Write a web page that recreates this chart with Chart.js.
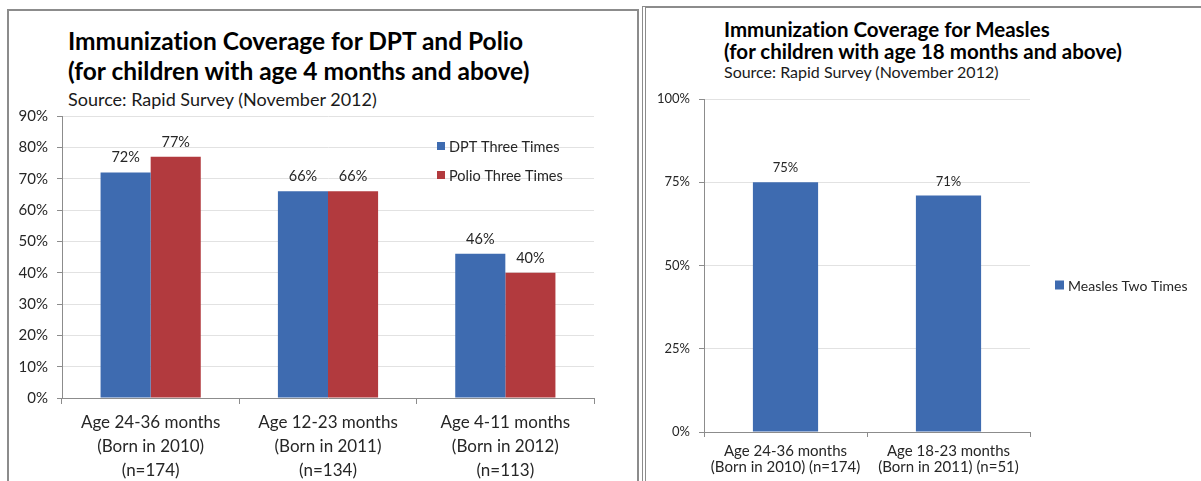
<!DOCTYPE html>
<html>
<head>
<meta charset="utf-8">
<script src="https://cdn.jsdelivr.net/npm/chart.js@4.4.1/dist/chart.umd.min.js"></script>
<style>
  html, body { margin: 0; padding: 0; background: #fff; }
  body { position: relative; width: 1201px; height: 481px; overflow: hidden; font-family: Lato, "Open Sans", sans-serif; color: #000; font-variant-ligatures: none; }
  .panel { position: absolute; box-sizing: border-box; border: 2px solid #8c8c8c; background: #fff; }
  #panelLeft { left: 7px; top: 9px; width: 632px; height: 520px; }
  #panelRight { left: 642px; top: 6px; width: 620px; height: 520px; border-left: 4px double #8c8c8c; }
  .txt { position: absolute; white-space: nowrap; line-height: 1; font-variant-ligatures: none; }
  canvas { position: absolute; top: 0; }
  #dptChart { left: 0; }
  #measlesChart { left: 643px; }
</style>
</head>
<body>
<div class="panel" id="panelLeft"></div>
<div class="panel" id="panelRight"></div>

<div class="txt" style="left:68px; top:29px; font-size:24.5px; font-weight:700;">Immunization Coverage for DPT and Polio</div>
<div class="txt" style="left:68px; top:59px; font-size:24.5px; font-weight:700;">(for children with age 4 months and above)</div>
<div class="txt" style="left:68px; top:90px; font-size:18px; color:#1a1a1a;">Source: Rapid Survey (November 2012)</div>

<div class="txt" style="left:724px; top:19px; font-size:20.5px; font-weight:700;">Immunization Coverage for Measles</div>
<div class="txt" style="left:724px; top:41px; font-size:20.5px; font-weight:700;">(for children with age 18 months and above)</div>
<div class="txt" style="left:724px; top:64px; font-size:16px; color:#1a1a1a;">Source: Rapid Survey (November 2012)</div>

<canvas id="dptChart" width="640" height="481"></canvas>
<canvas id="measlesChart" width="558" height="481"></canvas>

<script>
// ---- DPT / Polio chart data ----
const dptCategories = [
  ['Age 24-36 months', '(Born in 2010)', '(n=174)'],
  ['Age 12-23 months', '(Born in 2011)', '(n=134)'],
  ['Age 4-11 months', '(Born in 2012)', '(n=113)']
];
const dptThreeTimes = [72, 66, 46];
const polioThreeTimes = [77, 66, 40];
const dptAxisTicks = [0, 10, 20, 30, 40, 50, 60, 70, 80, 90];

// ---- Measles chart data ----
const measlesCategories = [
  ['Age 24-36 months', '(Born in 2010) (n=174)'],
  ['Age 18-23 months', '(Born in 2011) (n=51)']
];
const measlesTwoTimes = [75, 71];
const measlesAxisTicks = [0, 25, 50, 75, 100];

const BLUE = '#3E6BB0';
const RED = '#B23A3E';
const TEXT = '#262626';
const GRID = '#e2e2e2';
const AXIS = '#8c8c8c';
const FONT = 'Lato, "Open Sans", sans-serif';

// Percent labels above each bar
const valueLabels = {
  id: 'valueLabels',
  afterDatasetsDraw(chart, args, opts) {
    const ctx = chart.ctx;
    ctx.save();
    ctx.font = opts.size + 'px ' + FONT;
    ctx.fillStyle = TEXT;
    ctx.textAlign = 'center';
    ctx.textBaseline = 'alphabetic';
    chart.data.datasets.forEach((ds, i) => {
      chart.getDatasetMeta(i).data.forEach((bar, j) => {
        ctx.fillText(ds.data[j] + '%', bar.x, bar.y - opts.offset);
      });
    });
    ctx.restore();
  }
};

// Square-marker legend drawn inside the canvas at a fixed spot
const boxLegend = {
  id: 'boxLegend',
  afterDraw(chart, args, opts) {
    const ctx = chart.ctx;
    ctx.save();
    ctx.font = opts.size + 'px ' + FONT;
    ctx.textBaseline = 'middle';
    ctx.textAlign = 'left';
    chart.data.datasets.forEach((ds, i) => {
      const cy = opts.y + i * opts.gap;
      ctx.fillStyle = ds.backgroundColor;
      ctx.fillRect(opts.x, cy - opts.box / 2, opts.box, opts.box);
      ctx.fillStyle = TEXT;
      ctx.fillText(ds.label, opts.x + opts.box + 4, cy + 1);
    });
    ctx.restore();
  }
};

function fixedTicks(list) {
  return scale => { scale.ticks = list.map(v => ({ value: v })); };
}

new Chart(document.getElementById('dptChart'), {
  type: 'bar',
  data: {
    labels: dptCategories,
    datasets: [
      { label: 'DPT Three Times', data: dptThreeTimes, backgroundColor: BLUE },
      { label: 'Polio Three Times', data: polioThreeTimes, backgroundColor: RED }
    ]
  },
  options: {
    responsive: false,
    animation: false,
    layout: { padding: { top: 116, right: 46, left: 0, bottom: 0 } },
    datasets: { bar: { categoryPercentage: 0.565, barPercentage: 1.0 } },
    plugins: {
      legend: { display: false },
      tooltip: { enabled: false },
      valueLabels: { size: 14.5, offset: 10 },
      boxLegend: { x: 437, y: 146, gap: 29, box: 8, size: 14.5 }
    },
    scales: {
      x: {
        grid: { drawOnChartArea: false, drawTicks: true, tickLength: 6, tickColor: AXIS },
        border: { color: AXIS },
        ticks: { color: TEXT, font: { family: FONT, size: 17, lineHeight: 1.42 }, padding: 6, maxRotation: 0, autoSkip: false },
        afterFit: s => { s.height = 83; }
      },
      y: {
        min: 0, max: 90,
        afterBuildTicks: fixedTicks(dptAxisTicks),
        grid: { color: GRID, tickColor: AXIS, tickLength: 5 },
        border: { color: AXIS },
        ticks: { color: TEXT, font: { family: FONT, size: 15 }, padding: 9, callback: v => v + '%' },
        afterFit: s => { s.width = 62; }
      }
    }
  },
  plugins: [valueLabels, boxLegend]
});

new Chart(document.getElementById('measlesChart'), {
  type: 'bar',
  data: {
    labels: measlesCategories,
    datasets: [
      { label: 'Measles Two Times', data: measlesTwoTimes, backgroundColor: BLUE }
    ]
  },
  options: {
    responsive: false,
    animation: false,
    layout: { padding: { top: 99, right: 171, left: 0, bottom: 0 } },
    datasets: { bar: { categoryPercentage: 0.4, barPercentage: 1.0 } },
    plugins: {
      legend: { display: false },
      tooltip: { enabled: false },
      valueLabels: { size: 13, offset: 10 },
      boxLegend: { x: 412, y: 285, gap: 0, box: 9, size: 14 }
    },
    scales: {
      x: {
        grid: { drawOnChartArea: false, drawTicks: true, tickLength: 5, tickColor: AXIS },
        border: { color: AXIS },
        ticks: { color: TEXT, font: { family: FONT, size: 15, lineHeight: 1.07 }, padding: 6, maxRotation: 0, autoSkip: false },
        afterFit: s => { s.height = 49; }
      },
      y: {
        min: 0, max: 100,
        afterBuildTicks: fixedTicks(measlesAxisTicks),
        grid: { color: GRID, tickColor: AXIS, tickLength: 5 },
        border: { color: AXIS },
        ticks: { color: TEXT, font: { family: FONT, size: 13 }, padding: 9, callback: v => v + '%' },
        afterFit: s => { s.width = 61; }
      }
    }
  },
  plugins: [valueLabels, boxLegend]
});
</script>
</body>
</html>
